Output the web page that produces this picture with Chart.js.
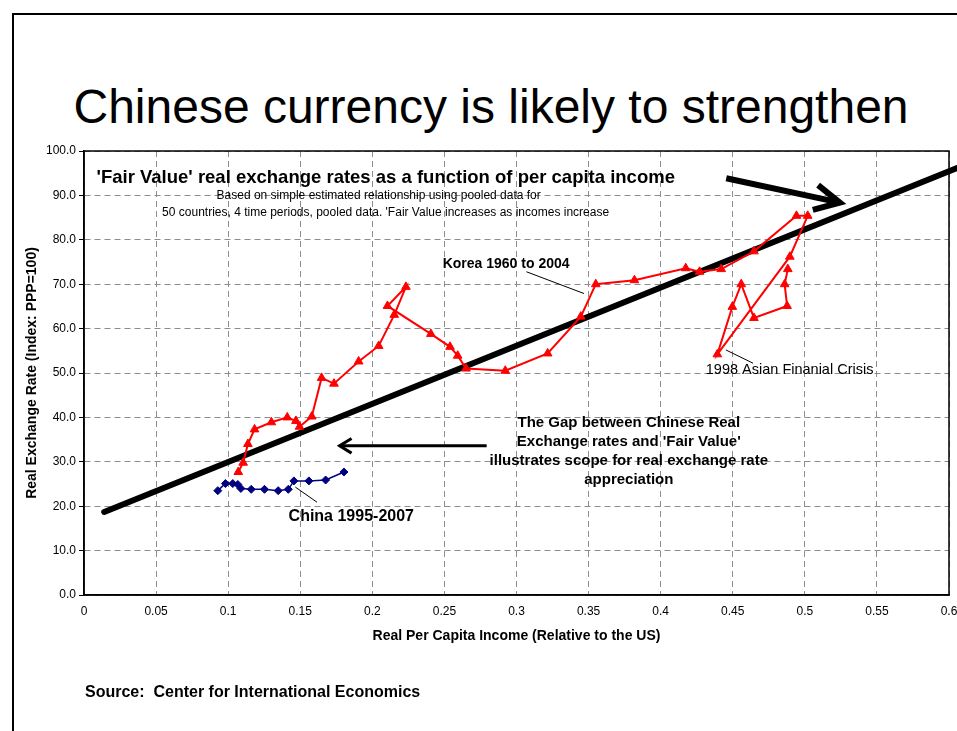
<!DOCTYPE html>
<html>
<head>
<meta charset="utf-8">
<title>Chinese currency is likely to strengthen</title>
<script src="https://cdn.jsdelivr.net/npm/chart.js@4"></script>
<style>
  body { margin: 0; background: #fff; font-family: "Liberation Sans", Arial, sans-serif; }
  #slide { position: relative; width: 957px; height: 731px; overflow: hidden; background: #fff; }
  #frame { position: absolute; left: 12px; top: 13px; width: 1000px; height: 800px; border: 2px solid #000; }
  #title { position: absolute; left: 0; width: 982px; top: 83px; text-align: center; font-size: 48px; line-height: 48px; color: #000; }
  #source { position: absolute; left: 85px; top: 684px; font-size: 16px; line-height: 16px; font-weight: bold; color: #000; }
  #chart { position: absolute; left: 0; top: 0; }
</style>
</head>
<body>
<div id="slide">
  <div id="frame"></div>
  <div id="title">Chinese currency is likely to strengthen</div>
  <canvas id="chart" width="957" height="731"></canvas>
  <div id="source">Source:&nbsp; Center for International Economics</div>
</div>
<script>
// Korea 1960-2004: per capita income (share of US) vs real exchange rate
const koreaX = [0.107, 0.1104, 0.1137, 0.1183, 0.130, 0.141, 0.147, 0.1495, 0.158, 0.1648,
                0.1734, 0.1905, 0.2044, 0.2152, 0.2233, 0.2105, 0.2406, 0.2539, 0.2592, 0.265,
                0.2922, 0.3216, 0.3446, 0.355, 0.3818, 0.4174, 0.427, 0.442, 0.4647, 0.4942,
                0.502, 0.4896, 0.4393, 0.4497, 0.4559, 0.4647, 0.4877, 0.486, 0.4882];
const koreaY = [27.7, 29.8, 34.0, 37.3, 38.9, 40.0, 39.2, 37.9, 40.2, 48.9,
                47.6, 52.6, 56.1, 63.1, 69.4, 65.1, 58.8, 55.9, 53.9, 51.0,
                50.5, 54.4, 62.7, 70.0, 70.9, 73.6, 72.8, 73.4, 77.4, 85.4,
                85.4, 76.2, 54.2, 64.9, 70.0, 62.4, 65.1, 70.0, 73.4];

// China 1995-2007
const chinaX = [0.0928, 0.0981, 0.1032, 0.1067, 0.1088, 0.116, 0.1252, 0.1347, 0.1417, 0.1456, 0.156, 0.1676, 0.1803];
const chinaY = [23.5, 25.1, 25.1, 24.9, 24.0, 23.8, 23.8, 23.5, 23.8, 25.7, 25.7, 25.9, 27.7];

// estimated 'fair value' relationship (end points of the fitted line)
const fairX = [0.014, 0.606];
const fairY = [18.7, 96.2];

const xTickValues = [0, 0.05, 0.1, 0.15, 0.2, 0.25, 0.3, 0.35, 0.4, 0.45, 0.5, 0.55, 0.6];
const yTickValues = [0, 10, 20, 30, 40, 50, 60, 70, 80, 90, 100];

const FONT = '"Liberation Sans", Arial, sans-serif';
const toPoints = (xs, ys) => xs.map((x, i) => ({ x: x, y: ys[i] }));

// notes, arrows and the plot frame, placed in data units
const notes = {
  id: 'notes',
  afterDatasetsDraw(chart) {
    const { ctx, chartArea: a, scales } = chart;
    const px = v => scales.x.getPixelForValue(v);
    const py = v => scales.y.getPixelForValue(v);

    ctx.save();
    ctx.strokeStyle = '#000';
    ctx.lineWidth = 1.5;
    ctx.strokeRect(a.left, a.top, a.right - a.left, a.bottom - a.top);

    const text = (s, x, y, size, bold, align) => {
      ctx.font = (bold ? 'bold ' : '') + size + 'px ' + FONT;
      ctx.fillStyle = '#000';
      ctx.textAlign = align || 'left';
      ctx.textBaseline = 'alphabetic';
      ctx.fillText(s, px(x), py(y));
    };
    const line = (x1, y1, x2, y2, w) => {
      ctx.lineWidth = w;
      ctx.beginPath();
      ctx.moveTo(px(x1), py(y1));
      ctx.lineTo(px(x2), py(y2));
      ctx.stroke();
    };
    const arrow = (x1, y1, x2, y2, w, head, spread) => {
      const ax = px(x1), ay = py(y1), bx = px(x2), by = py(y2);
      const ang = Math.atan2(by - ay, bx - ax);
      ctx.lineWidth = w;
      ctx.lineJoin = 'miter';
      ctx.beginPath();
      ctx.moveTo(ax, ay);
      ctx.lineTo(bx, by);
      ctx.stroke();
      ctx.beginPath();
      ctx.moveTo(bx - head * Math.cos(ang - spread), by - head * Math.sin(ang - spread));
      ctx.lineTo(bx, by);
      ctx.lineTo(bx - head * Math.cos(ang + spread), by - head * Math.sin(ang + spread));
      ctx.stroke();
    };

    text("'Fair Value' real exchange rates as a function of per capita income", 0.0087, 92.8, 18.5, true);
    text('Based on simple estimated relationship using pooled data for', 0.2044, 89.2, 12, false, 'center');
    text("50 countries, 4 time periods, pooled data. 'Fair Value increases as incomes increase", 0.2092, 85.4, 12, false, 'center');
    arrow(0.4455, 93.85, 0.5243, 88.36, 6, 28, 0.47);

    text('Korea 1960 to 2004', 0.2488, 73.6, 14, true);
    line(0.3069, 72.8, 0.3468, 67.9, 1);

    text('1998 Asian Finanial Crisis', 0.4313, 49.8, 14.5, false);
    line(0.4452, 55.2, 0.4641, 52.2, 1);

    const gap = ['The Gap between Chinese Real', "Exchange rates and 'Fair Value'",
                 'illustrates scope for real exchange rate', 'appreciation'];
    const gapY = [37.8, 33.6, 29.3, 25.0];
    gap.forEach((s, i) => text(s, 0.3779, gapY[i], 15, true, 'center'));
    arrow(0.2793, 33.6, 0.1773, 33.6, 3, 14, 0.55);

    text('China 1995-2007', 0.1419, 16.7, 16, true);
    line(0.1466, 24.3, 0.1616, 20.9, 1);
    ctx.restore();
  }
};

new Chart(document.getElementById('chart'), {
  type: 'scatter',
  data: {
    datasets: [
      {
        label: 'Korea 1960 to 2004',
        data: toPoints(koreaX, koreaY),
        showLine: true,
        borderColor: '#ff0000',
        backgroundColor: '#ff0000',
        borderWidth: 2,
        pointStyle: 'triangle',
        pointRadius: 5,
        pointBorderWidth: 1
      },
      {
        label: 'China 1995-2007',
        data: toPoints(chinaX, chinaY),
        showLine: true,
        borderColor: '#000080',
        backgroundColor: '#000080',
        borderWidth: 1.5,
        pointStyle: 'rectRot',
        pointRadius: 4,
        pointBorderWidth: 1
      },
      {
        label: 'Fair value',
        data: toPoints(fairX, fairY),
        showLine: true,
        borderColor: '#000',
        borderWidth: 6,
        borderCapStyle: 'round',
        pointRadius: 0,
        clip: false
      }
    ]
  },
  options: {
    responsive: false,
    animation: false,
    layout: { padding: { left: 0, top: 151, right: 8, bottom: 0 } },
    plugins: { legend: { display: false }, tooltip: { enabled: false } },
    scales: {
      x: {
        type: 'linear',
        min: 0,
        max: 0.6,
        afterBuildTicks: s => { s.ticks = xTickValues.map(v => ({ value: v })); },
        afterFit: s => { s.height = 136; s.paddingLeft = 0; s.paddingRight = 0; },
        ticks: {
          padding: 9,
          maxRotation: 0,
          autoSkip: false,
          color: '#000',
          font: { family: FONT, size: 12 },
          callback: v => String(Number(v.toFixed(2)))
        },
        grid: { color: '#8c8c8c', lineWidth: 1, drawTicks: false },
        border: { display: true, color: '#000', width: 1.5, dash: [6, 4] },
        title: {
          display: true,
          text: 'Real Per Capita Income (Relative to the US)',
          color: '#000',
          font: { family: FONT, size: 14, weight: 'bold' },
          padding: { top: 0, bottom: 86 }
        }
      },
      y: {
        min: 0,
        max: 100,
        afterBuildTicks: s => { s.ticks = yTickValues.map(v => ({ value: v })); },
        afterFit: s => { s.width = 84; s.paddingTop = 0; s.paddingBottom = 0; },
        ticks: {
          padding: 3,
          color: '#000',
          font: { family: FONT, size: 12 },
          callback: v => v.toFixed(1)
        },
        grid: { color: '#8c8c8c', lineWidth: 1, tickLength: 5, tickColor: '#000', tickBorderDash: [] },
        border: { display: true, color: '#000', width: 1.5, dash: [6, 4] },
        title: {
          display: true,
          text: 'Real Exchange Rate (Index: PPP=100)',
          color: '#000',
          font: { family: FONT, size: 14, weight: 'bold' },
          padding: { top: 24, bottom: 0 }
        }
      }
    }
  },
  plugins: [notes]
});
</script>
</body>
</html>
